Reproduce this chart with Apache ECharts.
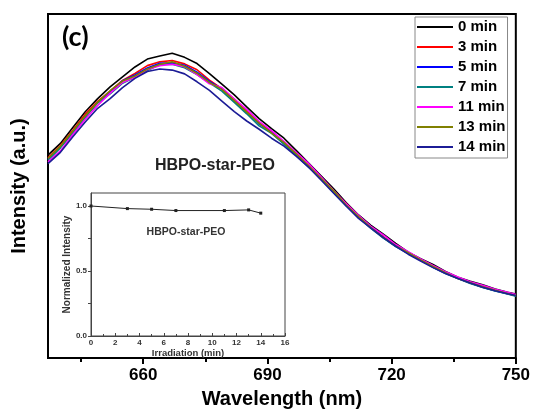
<!DOCTYPE html>
<html>
<head>
<meta charset="utf-8">
<script src="https://cdn.jsdelivr.net/npm/echarts@6/dist/echarts.min.js"></script>
<style>html,body{margin:0;padding:0;background:#fff}#c{width:533px;height:414px}</style>
</head>
<body>
<div id="c"></div>
<script>
// ---- data ----
const wavelengths = [637,640,643,646,649,652,655,658,661,664,667,670,673,676,679,682,685,688,691,694,697,700,703,706,709,712,715,718,721,724,727,730,733,736,739,742,745,748,750];
const seriesNames = ['0 min','3 min','5 min','7 min','11 min','13 min','14 min'];
const int0min  = [59.0,62.4,67.0,71.6,75.4,78.8,81.7,84.6,86.9,87.8,88.6,87.4,85.6,82.7,79.6,76.5,73.0,69.6,66.7,63.9,60.3,56.6,52.9,49.2,45.2,41.6,38.6,36.0,33.3,30.8,28.9,27.2,25.2,23.5,22.3,21.3,20.1,19.1,18.6];
const int3min  = [58.2,61.8,66.2,70.9,74.6,77.6,80.7,82.7,85.0,86.1,86.5,85.5,83.8,80.8,78.3,75.3,71.7,68.5,65.8,62.4,59.4,55.9,52.3,48.4,44.9,41.2,38.0,35.2,32.7,30.7,28.6,26.5,24.9,23.4,22.0,20.8,19.8,18.9,18.3];
const int5min  = [57.8,61.4,65.5,70.2,74.2,77.2,80.6,82.3,84.3,85.7,85.8,85.1,83.1,80.4,78.2,74.6,71.3,68.1,65.5,62.4,58.8,55.6,52.1,48.2,44.4,41.0,38.1,35.0,32.5,30.5,28.4,26.5,24.7,23.2,21.8,20.6,19.6,18.7,18.1];
const int7min  = [57.5,61.1,65.5,69.9,74.2,76.8,79.9,81.6,83.6,85.3,85.4,84.4,82.4,80.0,77.6,74.3,71.0,67.5,65.3,62.2,58.9,55.4,52.3,48.1,44.3,40.9,37.7,34.9,32.4,30.4,28.5,26.4,24.6,23.1,21.7,20.5,19.5,18.6,18.0];
const int11min = [57.0,60.2,65.0,69.4,73.4,77.0,80.1,81.6,83.9,85.0,85.4,84.7,82.4,79.7,78.6,75.3,72.3,68.8,66.1,63.0,59.7,56.5,52.6,48.7,44.9,41.5,38.3,35.8,33.0,30.9,28.8,26.9,25.1,23.6,22.2,21.2,20.0,19.1,18.5];
const int13min = [58.0,61.6,66.0,70.4,74.4,77.7,80.5,82.0,84.0,85.4,86.1,84.8,82.8,80.1,78.1,74.8,71.5,68.3,65.4,62.6,59.3,55.8,52.2,48.6,44.5,41.1,37.9,35.1,32.6,30.6,28.5,26.6,24.8,23.1,21.9,20.7,19.7,18.8,18.2];
const int14min = [56.5,59.8,64.3,68.6,72.6,75.4,78.6,81.3,83.3,84.0,83.7,82.6,80.3,77.8,74.7,71.6,68.9,66.5,63.9,61.6,58.6,55.4,51.7,47.9,44.2,40.6,37.8,35.0,32.5,30.2,28.2,26.3,24.6,23.1,21.8,20.6,19.6,18.7,18.2];
const majorTicks = [660,690,720,750];
const minorTicks = [645,675,705,735];
const irrTimes = [0,3,5,7,11,13,14];
const normIntensity = [1.0,0.98,0.975,0.965,0.965,0.97,0.945];
const insetYLabels = [0,0.5,1.0];
const insetYTicks = [0,0.25,0.5,0.75,1.0];

// ---- chart ----
const FONT = 'Liberation Sans, Arial, sans-serif';
const colors = ['#000000','#ff0000','#0000ff','#008080','#ff00ff','#808000','#1c1c96'];
const allSeries = [int0min,int3min,int5min,int7min,int11min,int13min,int14min];
const chart = echarts.init(document.getElementById('c'), null, {renderer:'canvas'});

const mainSeries = allSeries.map((vals, i) => ({
  name: seriesNames[i],
  type: 'line',
  xAxisIndex: 0, yAxisIndex: 0,
  data: wavelengths.map((w, j) => [w, vals[j]]),
  symbol: 'none',
  smooth: false,
  lineStyle: {color: colors[i], width: 1.6},
  itemStyle: {color: colors[i]},
  z: 2
}));

const option = {
  animation: false,
  backgroundColor: '#fff',
  grid: [
    {left: 48, right: 14, top: 14, bottom: 51, show: true, borderColor: '#000', borderWidth: 2, backgroundColor: 'transparent'},
    {left: 91, top: 193, width: 194, height: 143, show: true, borderColor: '#444', borderWidth: 1, backgroundColor: '#fff', z: 5}
  ],
  xAxis: [
    {
      type: 'value', gridIndex: 0, min: 637, max: 750, position: 'bottom',
      axisLine: {show: true, lineStyle: {color: '#000', width: 2}},
      axisTick: {show: true, customValues: majorTicks, length: 6, lineStyle: {color: '#000', width: 2}},
      axisLabel: {show: true, customValues: majorTicks, fontSize: 17, fontWeight: 'bold', color: '#000', fontFamily: FONT, margin: 9},
      splitLine: {show: false},
      name: 'Wavelength (nm)', nameLocation: 'middle', nameGap: 30,
      nameTextStyle: {fontSize: 20, fontWeight: 'bold', color: '#000', fontFamily: FONT}
    },
    {
      type: 'value', gridIndex: 0, min: 637, max: 750, position: 'bottom', offset: 0,
      axisLine: {show: false},
      axisTick: {show: true, customValues: minorTicks, length: 4, lineStyle: {color: '#000', width: 2}},
      axisLabel: {show: false},
      splitLine: {show: false}
    },
    {
      type: 'value', gridIndex: 1, min: 0, max: 16, interval: 2, position: 'bottom',
      axisLine: {show: true, lineStyle: {color: '#444', width: 1}},
      axisTick: {show: true, inside: true, length: 3, lineStyle: {color: '#444'}},
      minorTick: {show: true, splitNumber: 2, length: 2, lineStyle: {color: '#444'}},
      axisLabel: {fontSize: 8, fontWeight: 'bold', color: '#333', fontFamily: FONT, margin: 3},
      splitLine: {show: false},
      name: 'Irradiation (min)', nameLocation: 'middle', nameGap: 12,
      nameTextStyle: {fontSize: 9.5, fontWeight: 'bold', color: '#333', fontFamily: FONT},
      z: 6
    }
  ],
  yAxis: [
    {
      type: 'value', gridIndex: 0, min: 0, max: 100,
      axisLine: {show: false}, axisTick: {show: false}, axisLabel: {show: false}, splitLine: {show: false},
      name: 'Intensity (a.u.)', nameLocation: 'middle', nameGap: 19, nameRotate: 90,
      nameTextStyle: {fontSize: 20, fontWeight: 'bold', color: '#000', fontFamily: FONT}
    },
    {
      type: 'value', gridIndex: 1, min: 0, max: 1.1,
      axisLine: {show: true, lineStyle: {color: '#444', width: 1}},
      axisTick: {show: true, customValues: insetYTicks, length: 3, lineStyle: {color: '#444'}},
      axisLabel: {customValues: insetYLabels, formatter: v => v.toFixed(1), fontSize: 8, fontWeight: 'bold', color: '#333', fontFamily: FONT, margin: 4},
      splitLine: {show: false},
      name: 'Normalized Intensity', nameLocation: 'middle', nameGap: 18, nameRotate: 90,
      nameTextStyle: {fontSize: 10, fontWeight: 'bold', color: '#333', fontFamily: FONT},
      z: 6
    }
  ],
  legend: {
    show: true, orient: 'vertical', left: 415, top: 17,
    data: seriesNames,
    icon: 'rect', itemWidth: 36, itemHeight: 2, itemGap: 4,
    padding: [2, 2, 3, 2],
    borderColor: '#888', borderWidth: 1, backgroundColor: '#fff',
    textStyle: {fontSize: 15, fontWeight: 'bold', color: '#000', fontFamily: FONT, lineHeight: 16},
    selectedMode: false
  },
  graphic: [
    {type: 'text', left: 62, top: 24, style: {text: '(c)', font: 'bold 27px Lato, "Open Sans", sans-serif', fill: '#000'}},
    {type: 'text', x: 215, y: 166, style: {text: 'HBPO-star-PEO', font: 'bold 16px ' + FONT, fill: '#222', textAlign: 'center', textVerticalAlign: 'middle'}, z: 10},
    {type: 'text', x: 186, y: 232, style: {text: 'HBPO-star-PEO', font: 'bold 10.5px ' + FONT, fill: '#333', textAlign: 'center', textVerticalAlign: 'middle'}, z: 10}
  ],
  series: mainSeries.concat([{
    name: 'inset', type: 'line', xAxisIndex: 2, yAxisIndex: 1,
    data: irrTimes.map((t, i) => [t, normIntensity[i]]),
    symbol: 'rect', symbolSize: 3, showSymbol: true,
    lineStyle: {color: '#222', width: 1}, itemStyle: {color: '#222'},
    z: 7
  }])
};
chart.setOption(option);
</script>
</body>
</html>
